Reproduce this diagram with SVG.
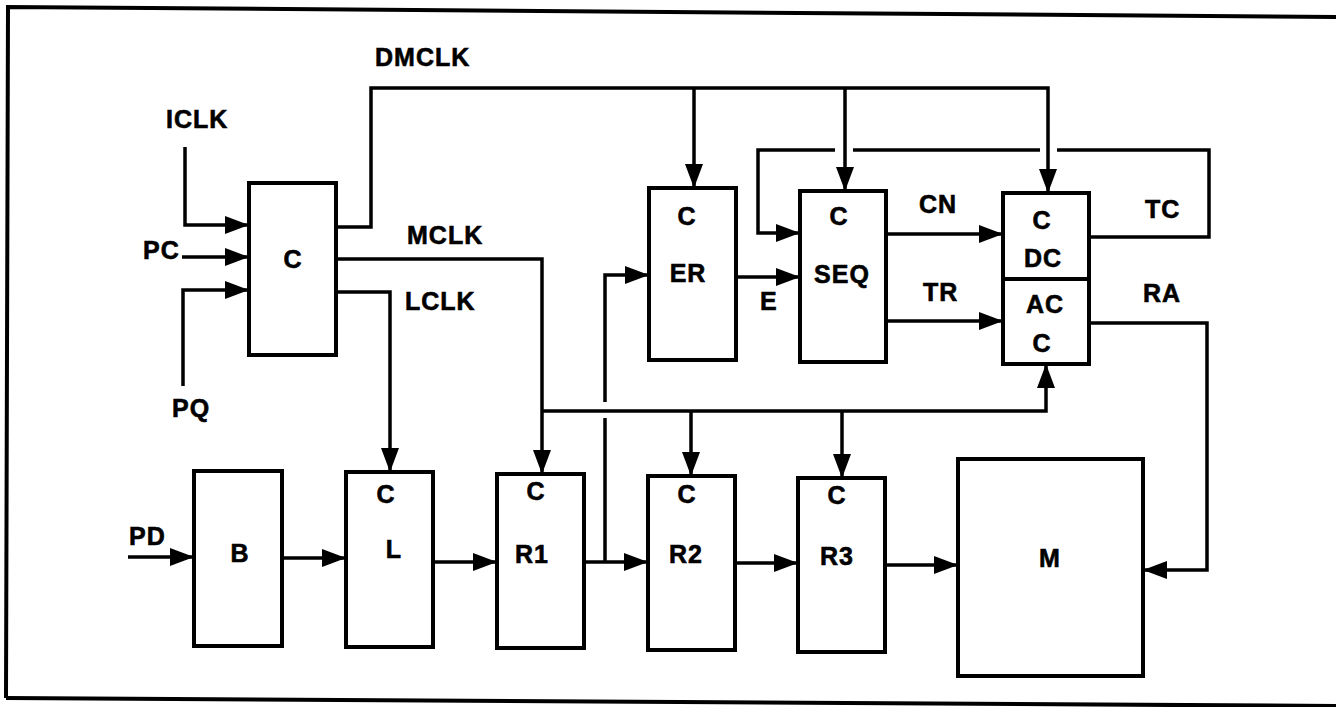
<svg xmlns="http://www.w3.org/2000/svg" width="1336" height="707" viewBox="0 0 1336 707">
<style>
.box{fill:#fff;stroke:#000;stroke-width:4}
.ln{fill:none;stroke:#000;stroke-width:3.5}
.ar{fill:none;stroke:#000;stroke-width:3.5;marker-end:url(#ah)}
text{font-family:"Liberation Sans",Arial,Helvetica,sans-serif;font-weight:bold;font-size:25px;fill:#000;stroke:#000;stroke-width:0.6;letter-spacing:1px}
.m{text-anchor:middle}
</style>
<defs>
<marker id="ah" viewBox="0 0 24 18" refX="24" refY="9" markerWidth="24" markerHeight="18" markerUnits="userSpaceOnUse" orient="auto">
<path d="M0,0 L24,9 L0,18 z" fill="#000"/>
</marker>
</defs>
<rect width="1336" height="707" fill="#fff"/>
<g id="frame" fill="none" stroke="#000" stroke-width="4">
<path d="M6,698 L8,7 L1336,17"/>
<path d="M6,698 L1336,706"/>
</g>
<g id="connectors">
<path class="ar" d="M185,147 V225 H249"/>
<path class="ar" d="M182,257 H249"/>
<path class="ar" d="M183,386 V290 H249"/>
<path class="ar" d="M336,227 H371 V88 H1048 V193"/>
<path class="ar" d="M694,88 V188"/>
<path class="ar" d="M845,88 V191"/>
<path class="ar" d="M336,259 H542 V474"/>
<path class="ar" d="M542,411 H1046 V364"/>
<path class="ar" d="M691,411 V476"/>
<path class="ar" d="M842,411 V478"/>
<path class="ar" d="M336,292 H390 V472"/>
<path class="ar" d="M128,557 H194"/>
<path class="ar" d="M282,558 H346"/>
<path class="ar" d="M433,562 H497"/>
<path class="ar" d="M584,562 H648"/>
<path class="ln" d="M605,562 V418"/>
<path class="ar" d="M605,402 V275 H649"/>
<path class="ar" d="M736,277 H800"/>
<path class="ar" d="M886,234 H1003"/>
<path class="ar" d="M886,321 H1003"/>
<path class="ln" d="M1089,237 H1209 V150 H1057"/>
<path class="ln" d="M1040,150 H853"/>
<path class="ar" d="M835,150 H758 V233 H800"/>
<path class="ar" d="M1089,323 H1207 V570 H1143"/>
<path class="ar" d="M735,563 H798"/>
<path class="ar" d="M885,565 H958"/>
</g>
<g id="labels">
<text x="375" y="66">DMCLK</text>
<text x="166" y="128">ICLK</text>
<text x="143" y="259">PC</text>
<text x="172" y="417">PQ</text>
<text x="407" y="244">MCLK</text>
<text x="405" y="310">LCLK</text>
<text x="129" y="545">PD</text>
<text x="760" y="310">E</text>
<text x="919" y="213">CN</text>
<text x="923" y="301">TR</text>
<text x="1145" y="218">TC</text>
<text x="1143" y="302">RA</text>
</g>
<g id="node-C">
<rect class="box" x="249" y="183" width="87" height="172"/>
<text class="m" x="293" y="268">C</text>
</g>
<g id="node-ER">
<rect class="box" x="649" y="188" width="87" height="172"/>
<text class="m" x="687" y="225">C</text>
<text class="m" x="688" y="282">ER</text>
</g>
<g id="node-SEQ">
<rect class="box" x="800" y="191" width="86" height="171"/>
<text class="m" x="839" y="225">C</text>
<text class="m" x="842" y="283">SEQ</text>
</g>
<g id="node-DCAC">
<rect class="box" x="1003" y="193" width="86" height="171"/>
<line x1="1003" y1="279" x2="1089" y2="279" stroke="#000" stroke-width="4"/>
<text class="m" x="1042" y="229">C</text>
<text class="m" x="1043" y="267">DC</text>
<text class="m" x="1045" y="313">AC</text>
<text class="m" x="1042" y="352">C</text>
</g>
<g id="node-B">
<rect class="box" x="194" y="471" width="88" height="175"/>
<text class="m" x="240" y="562">B</text>
</g>
<g id="node-L">
<rect class="box" x="346" y="472" width="87" height="175"/>
<text class="m" x="386" y="503">C</text>
<text class="m" x="394" y="558">L</text>
</g>
<g id="node-R1">
<rect class="box" x="497" y="474" width="87" height="174"/>
<text class="m" x="536" y="500">C</text>
<text class="m" x="532" y="563">R1</text>
</g>
<g id="node-R2">
<rect class="box" x="648" y="476" width="87" height="174"/>
<text class="m" x="687" y="503">C</text>
<text class="m" x="686" y="563">R2</text>
</g>
<g id="node-R3">
<rect class="box" x="798" y="478" width="87" height="174"/>
<text class="m" x="837" y="504">C</text>
<text class="m" x="837" y="565">R3</text>
</g>
<g id="node-M">
<rect class="box" x="958" y="459" width="185" height="217"/>
<text class="m" x="1050" y="567">M</text>
</g>
</svg>
